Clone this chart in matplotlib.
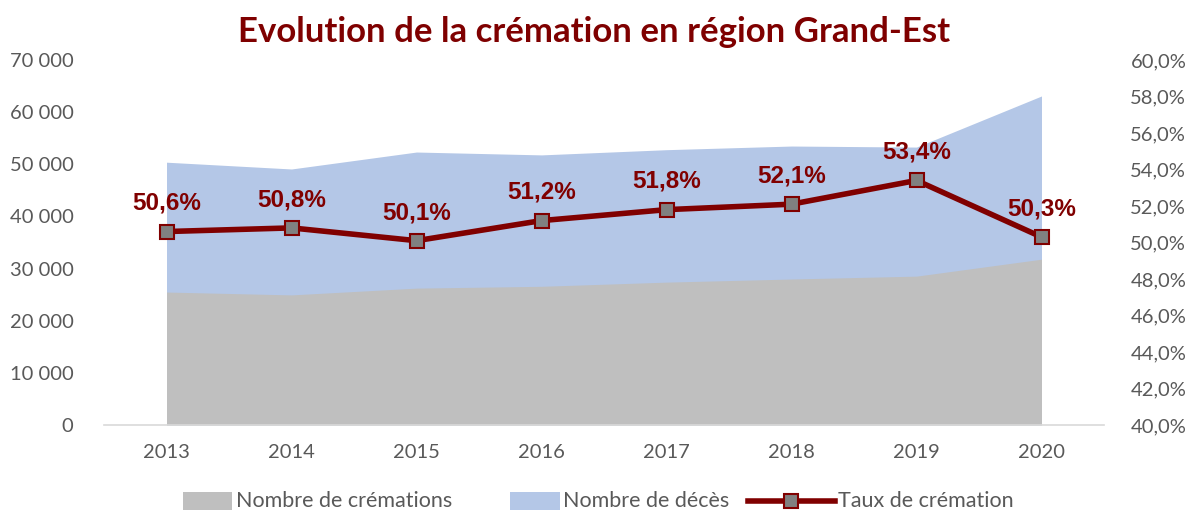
import matplotlib
matplotlib.use("Agg")
import matplotlib.pyplot as plt
from matplotlib.ticker import FuncFormatter, MultipleLocator
from matplotlib.lines import Line2D
from matplotlib.patches import Rectangle

years = [2013, 2014, 2015, 2016, 2017, 2018, 2019, 2020]
cremations = [25500, 24950, 26250, 26600, 27400, 28000, 28550, 31800]
deces = [50400, 49100, 52350, 51800, 52800, 53500, 53300, 63100]
taux = [50.6, 50.8, 50.1, 51.2, 51.8, 52.1, 53.4, 50.3]
taux_labels = ["50,6%", "50,8%", "50,1%", "51,2%", "51,8%", "52,1%", "53,4%", "50,3%"]
legend_labels = ["Nombre de crémations", "Nombre de décès", "Taux de crémation"]

dark_red = "#800000"
tick_col = "#595959"
grey_fill = "#BFBFBF"
blue_fill = "#B4C7E7"

W, H = 1189, 514
fig = plt.figure(figsize=(W/100, H/100), dpi=100)
ax = fig.add_axes([104/W, 89/H, 1000/W, 365/H])
x = list(range(len(years)))

ax.fill_between(x, 0, deces, color=blue_fill, linewidth=0, zorder=1)
ax.fill_between(x, 0, cremations, color=grey_fill, linewidth=0, zorder=2)
ax.set_xlim(-0.5, len(years) - 0.5)
ax.set_ylim(0, 70000)
ax.yaxis.set_major_locator(MultipleLocator(10000))
ax.yaxis.set_major_formatter(FuncFormatter(lambda v, p: f"{int(v):,}".replace(",", " ")))
ax.set_xticks(x)
ax.set_xticklabels([str(y) for y in years])
for s in ["top", "right", "left"]:
    ax.spines[s].set_visible(False)
ax.spines["bottom"].set_color("#D9D9D9")
ax.spines["bottom"].set_linewidth(1.2)
ax.tick_params(axis="both", length=0, labelsize=14.5, labelcolor=tick_col)
ax.tick_params(axis="x", pad=14)
ax.tick_params(axis="y", pad=22)
for lab in ax.get_yticklabels() + ax.get_xticklabels():
    lab.set_fontfamily("Lato")

ax2 = ax.twinx()
ax2.plot(x, taux, color=dark_red, linewidth=4, marker="s", markersize=10,
         markerfacecolor="#808080", markeredgecolor=dark_red, markeredgewidth=1.5, zorder=5)
ax2.set_ylim(40, 60)
ax2.yaxis.set_major_locator(MultipleLocator(2))
ax2.yaxis.set_major_formatter(FuncFormatter(lambda v, p: f"{v:.1f}%".replace(".", ",")))
for s in ["top", "right", "left", "bottom"]:
    ax2.spines[s].set_visible(False)
ax2.tick_params(axis="y", length=0, labelsize=14.5, labelcolor=tick_col, pad=19)
for lab in ax2.get_yticklabels():
    lab.set_fontfamily("Lato")

for xi, t, lab in zip(x, taux, taux_labels):
    ax2.annotate(lab, (xi, t), xytext=(0, 12), textcoords="offset points",
                 ha="center", va="bottom", fontsize=17.5, fontweight="bold",
                 color=dark_red, family="Liberation Sans")

fig.text(0.5, 1 - 32/H, "Evolution de la crémation en région Grand-Est", ha="center", va="center",
         fontsize=25, fontweight="bold", color="#7F0000", family="Lato")

# manual legend (figure pixel coordinates)
ly = 1 - 501/H
def fx(px):
    return px / W
fig.patches.append(Rectangle((fx(183), ly - 9/H), 49/W, 18/H, transform=fig.transFigure,
                             facecolor=grey_fill, edgecolor="none"))
fig.text(fx(236), ly, legend_labels[0], ha="left", va="center", fontsize=15.5,
         color=tick_col, family="Lato")
fig.patches.append(Rectangle((fx(510), ly - 9/H), 50/W, 18/H, transform=fig.transFigure,
                             facecolor=blue_fill, edgecolor="none"))
fig.text(fx(563), ly, legend_labels[1], ha="left", va="center", fontsize=15.5,
         color=tick_col, family="Lato")
fig.lines.append(Line2D([fx(748), fx(835)], [ly, ly], transform=fig.transFigure,
                        color=dark_red, linewidth=4))
fig.lines.append(Line2D([fx(791)], [ly], transform=fig.transFigure, marker="s",
                        markersize=10, markerfacecolor="#808080", markeredgecolor=dark_red,
                        markeredgewidth=1.5, linestyle="none"))
fig.text(fx(838), ly, legend_labels[2], ha="left", va="center", fontsize=15.5,
         color=tick_col, family="Lato")

fig.savefig("out.png", dpi=100)
